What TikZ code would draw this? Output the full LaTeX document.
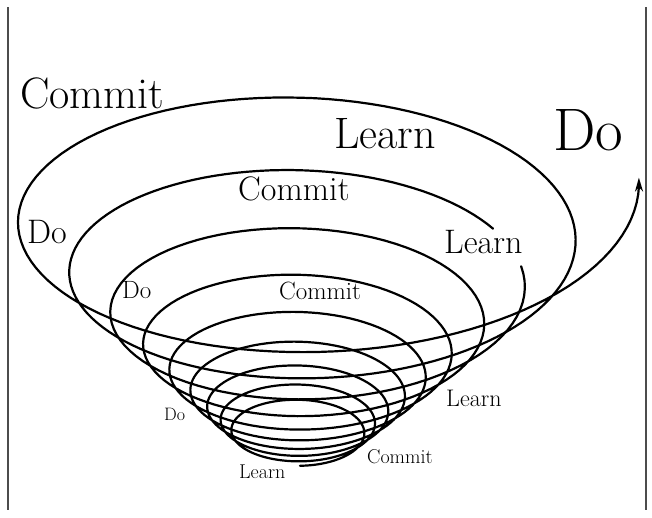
\documentclass[tikz,border=0pt]{standalone}
\usetikzlibrary{arrows.meta}
\begin{document}
\begin{tikzpicture}[x=1pt,y=-1pt,
  declare function={
    pp(\s)=(1.25^(\s)-0.15)/0.85;
    rr(\s)=62+217*pp(\s);
    hh(\s)=436-204*pp(\s);
    cc(\s)=300+11*pp(\s);
  },
  spiral/.style={line width=2.2pt, line join=round, line cap=round, black},
  frame/.style={line width=1.8pt, black!70},
  lbl/.style={inner sep=0pt, anchor=base west, font=\rmfamily},
]
\useasboundingbox (0,0) rectangle (652,517);
% frame lines
\draw[frame] (8,7) -- (8,510);
\draw[frame] (646,7) -- (646,510);
% spiral, inner part up to the gap at the middle "Learn"
\draw[spiral] plot[domain=-8.25:-0.962, samples=700, variable=\t]
  ({cc(\t-0.25)+rr(\t-0.25)*cos(360*\t)}, {hh(\t-0.25)-0.48*rr(\t-0.25)*sin(360*\t)});
% spiral, outer part ending with the arrow
\draw[spiral, -{Stealth[length=14pt,width=8pt]}] plot[domain=-0.908:1.012, samples=240, variable=\t]
  ({cc(\t-0.25)+rr(\t-0.25)*cos(360*\t)}, {hh(\t-0.25)-0.48*rr(\t-0.25)*sin(360*\t)});
% labels
\node[lbl] (c1) at (20,108) {\fontsize{44}{44}\selectfont Commit};
\node[lbl] (l1) at (334,148) {\fontsize{44}{44}\selectfont Learn};
\node[lbl] (d1) at (553,150) {\fontsize{60}{60}\selectfont Do};
\node[lbl] (c2) at (238,200) {\fontsize{34}{34}\selectfont Commit};
\node[lbl] (d2) at (27,243) {\fontsize{34}{34}\selectfont Do};
\node[lbl] (l2) at (444,253) {\fontsize{34}{34}\selectfont Learn};
\node[lbl] (d3) at (122,298) {\fontsize{25}{25}\selectfont Do};
\node[lbl] (c3) at (279,299) {\fontsize{25}{25}\selectfont Commit};
\node[lbl] (d4) at (164,420) {\fontsize{18}{18}\selectfont Do};
\node[lbl] (l3) at (446,406) {\fontsize{24}{24}\selectfont Learn};
\node[lbl] (c4) at (367,463) {\fontsize{20}{20}\selectfont Commit};
\node[lbl] (l4) at (239,478) {\fontsize{20}{20}\selectfont Learn};
\end{tikzpicture}
\end{document}
